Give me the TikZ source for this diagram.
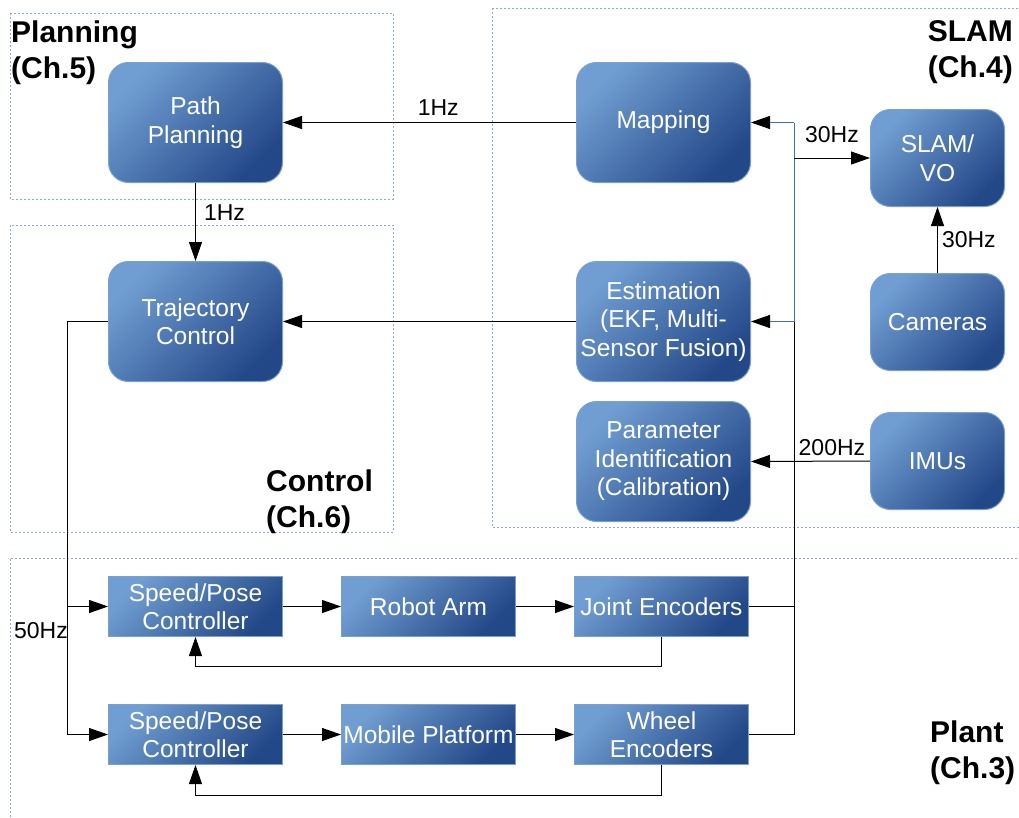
\documentclass[tikz,border=0pt]{standalone}
\usepackage{fontspec}
\setmainfont{Liberation Sans}
\usetikzlibrary{arrows.meta}
\definecolor{boxlight}{RGB}{112,158,210}
\definecolor{boxdark}{RGB}{35,72,136}
\definecolor{boxedge}{RGB}{120,160,210}
\definecolor{regedge}{RGB}{140,170,215}
\definecolor{bluewire}{RGB}{70,110,175}
\tikzset{
  blk/.style={draw=boxedge, line width=1pt, top color=boxlight, bottom color=boxdark, shading angle=45,
    text=white, align=center, inner sep=0pt, anchor=north west,
    font=\fontsize{24.5}{28.5}\selectfont},
  rblk/.style={blk, rounded corners=20pt},
  region/.style={draw=regedge, line width=1pt, dash pattern=on 2pt off 2pt},
  title/.style={font=\fontsize{30}{36}\selectfont\bfseries, align=left, inner sep=0pt},
  lbl/.style={font=\fontsize{23}{26}\selectfont, inner sep=0pt},
  wire/.style={line width=1pt, draw=black},
  arr/.style={wire, -{Triangle[length=19pt,width=13pt,color=black]}},
}
\begin{document}
\begin{tikzpicture}[x=1pt,y=-1pt]
\useasboundingbox (0,0) rectangle (1019,817);
% regions
\draw[region] (10,13) rectangle (393,199);
\draw[region] (10,225) rectangle (393,532);
\draw[region] (492,8) -- (1025,8);
\draw[region] (492,8) -- (492,527) -- (1025,527);
\draw[region] (1025,558) -- (10,558) -- (10,825);
% titles
\node[title, anchor=north west] (tplan) at (11,21) {Planning\\(Ch.5)};
\node[title, anchor=north east, align=right] (tslam) at (1013,20) {SLAM\\(Ch.4)};
\node[title, anchor=north west] (tctrl) at (266,470) {Control\\(Ch.6)};
\node[title, anchor=north west] (tplant) at (930,721) {Plant\\(Ch.3)};
% rounded boxes
\node[rblk, minimum width=174pt, minimum height=120pt] (pp) at (108,62) {Path\\Planning};
\node[rblk, minimum width=174pt, minimum height=120pt] (tc) at (108,261) {Trajectory\\Control};
\node[rblk, minimum width=174pt, minimum height=120pt] (map) at (576,62) {Mapping};
\node[rblk, minimum width=174pt, minimum height=120pt] (est) at (576,261) {Estimation\\(EKF, Multi-\\Sensor Fusion)};
\node[rblk, minimum width=174pt, minimum height=120pt] (par) at (576,401) {Parameter\\Identification\\(Calibration)};
\node[rblk, minimum width=134pt, minimum height=97pt] (slam) at (870,109) {SLAM/\\VO};
\node[rblk, minimum width=134pt, minimum height=97pt] (cam) at (870,273) {Cameras};
\node[rblk, minimum width=134pt, minimum height=97pt] (imu) at (870,412) {IMUs};
% plant boxes
\node[blk, minimum width=174pt, minimum height=60pt] (sp1) at (108,576) {Speed/Pose\\Controller};
\node[blk, minimum width=174pt, minimum height=60pt] (arm) at (341,576) {Robot Arm};
\node[blk, minimum width=174pt, minimum height=60pt] (je) at (574,576) {Joint Encoders};
\node[blk, minimum width=174pt, minimum height=60pt] (sp2) at (108,704) {Speed/Pose\\Controller};
\node[blk, minimum width=174pt, minimum height=60pt] (mp) at (341,704) {Mobile Platform};
\node[blk, minimum width=174pt, minimum height=60pt] (we) at (574,704) {Wheel\\Encoders};
% junction coordinates
\coordinate (jx) at (794,0);
\coordinate (lx) at (67,0);
% connectors
\draw[arr] (map.west) -- (pp.east) node[lbl, pos=0.47, above=7pt] (l1) {1Hz};
\draw[arr] (pp.south) -- (tc.north) node[lbl, pos=0.38, right=8pt] (l2) {1Hz};
\draw[arr] (est.west) -- (tc.east);
\draw[arr] (cam.north) -- (slam.south) node[lbl, midway, right=4pt] (l3) {30Hz};
\draw[arr] (imu.west) -- (par.east) node[lbl, pos=0.32, above=5pt] (l4) {200Hz};
% blue bus
\draw[line width=1pt, draw=bluewire] (jx |- map.east) -- (jx |- est.east);
\draw[arr, draw=bluewire] (jx |- map.east) -- (map.east);
\draw[arr, draw=bluewire] (jx |- est.east) -- (est.east);
\draw[arr] (jx |- slam.west) -- (slam.west) node[lbl, pos=0.5, above=15pt] (l5) {30Hz};
% encoders to bus
\draw[wire] (je.east) -| (jx |- est.east);
\draw[wire] (we.east) -| (jx |- je.east);
% control to plant
\draw[wire] (tc.west) -- (lx |- tc.west) -- (lx |- sp2.west);
\draw[arr] (lx |- sp1.west) -- (sp1.west);
\draw[arr] (lx |- sp2.west) -- (sp2.west);
\node[lbl, anchor=east] (l6) at (68,631) {50Hz};
% plant chains
\draw[arr] (sp1.east) -- (arm.west);
\draw[arr] (arm.east) -- (je.west);
\draw[arr] (sp2.east) -- (mp.west);
\draw[arr] (mp.east) -- (we.west);
% feedback
\coordinate (fb1) at (0,666);
\coordinate (fb2) at (0,795);
\draw[arr] (je.south) -- (je.south |- fb1) -- (sp1.south |- fb1) -- (sp1.south);
\draw[arr] (we.south) -- (we.south |- fb2) -- (sp2.south |- fb2) -- (sp2.south);
\end{tikzpicture}
\end{document}
